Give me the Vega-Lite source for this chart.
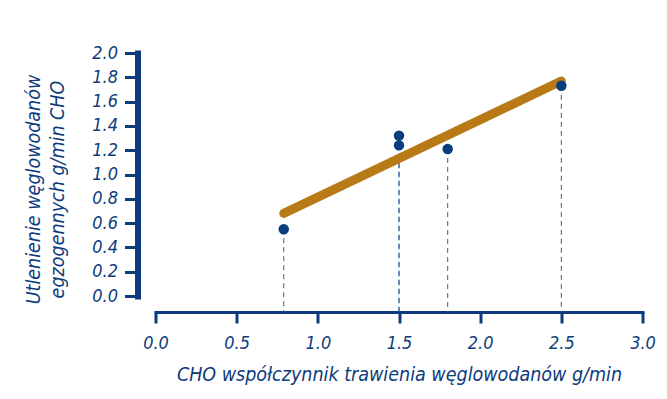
{
  "$schema": "https://vega.github.io/schema/vega-lite/v6.json",
  "width": 487,
  "height": 243,
  "autosize": {"type": "none"},
  "padding": {"left": 155.5, "top": 53, "right": 24.5, "bottom": 103},
  "background": "white",
  "config": {
    "view": {"stroke": null},
    "axis": {
      "labelFont": "DejaVu Sans Condensed",
      "titleFont": "DejaVu Sans Condensed",
      "labelFontStyle": "italic",
      "titleFontStyle": "italic",
      "labelFontWeight": "normal",
      "titleFontWeight": "normal",
      "labelColor": "#0d3b7c",
      "titleColor": "#0d3b7c",
      "domainColor": "#0d3b7c",
      "tickColor": "#0d3b7c",
      "grid": false,
      "labelFontSize": 18,
      "titleFontSize": 19.5,
      "labelOverlap": false,
      "labelFlush": false
    }
  },
  "datasets": {
    "points": [
      {"x": 0.79, "y": 0.55},
      {"x": 1.5, "y": 1.32},
      {"x": 1.5, "y": 1.24},
      {"x": 1.8, "y": 1.21},
      {"x": 2.5, "y": 1.73}
    ],
    "fit": [
      {"x": 0.79, "y": 0.68},
      {"x": 2.5, "y": 1.77}
    ]
  },
  "layer": [
    {
      "data": {"name": "points"},
      "mark": {"type": "rule", "strokeDash": [5, 4], "strokeWidth": 1, "color": "#2f5f9f"},
      "encoding": {
        "x": {"field": "x", "type": "quantitative", "scale": {"domain": [0, 3]},
          "axis": {
            "title": "CHO współczynnik trawienia węglowodanów g/min",
            "values": [0, 0.5, 1, 1.5, 2, 2.5, 3],
            "tickCount": 7,
            "format": ".1f",
            "offset": 16,
            "domainWidth": 3,
            "domainCap": "square",
            "tickWidth": 3,
            "tickSize": 11,
            "labelPadding": 11,
            "titlePadding": 13
          }},
        "y": {"field": "y", "type": "quantitative", "scale": {"domain": [0, 2]},
          "axis": {
            "title": ["Utlenienie węglowodanów", "egzogennych g/min CHO"],
            "values": [0, 0.2, 0.4, 0.6, 0.8, 1.0, 1.2, 1.4, 1.6, 1.8, 2.0],
            "tickCount": 11,
            "format": ".1f",
            "offset": 18,
            "domainWidth": 6,
            "domainCap": "square",
            "tickWidth": 3,
            "tickSize": 13,
            "labelPadding": 7,
            "titleAngle": -90,
            "titleAlign": "center",
            "titleBaseline": "middle",
            "titleLineHeight": 24,
            "titleX": -104,
            "titleY": 136
          }},
        "y2": {"datum": -0.13}
      }
    },
    {
      "data": {"name": "fit"},
      "mark": {"type": "line", "strokeWidth": 9, "strokeCap": "round", "color": "#b87a17"},
      "encoding": {
        "x": {"field": "x", "type": "quantitative"},
        "y": {"field": "y", "type": "quantitative"}
      }
    },
    {
      "data": {"name": "points"},
      "mark": {"type": "circle", "size": 110, "opacity": 1, "color": "#0a3d7e"},
      "encoding": {
        "x": {"field": "x", "type": "quantitative"},
        "y": {"field": "y", "type": "quantitative"}
      }
    }
  ]
}
